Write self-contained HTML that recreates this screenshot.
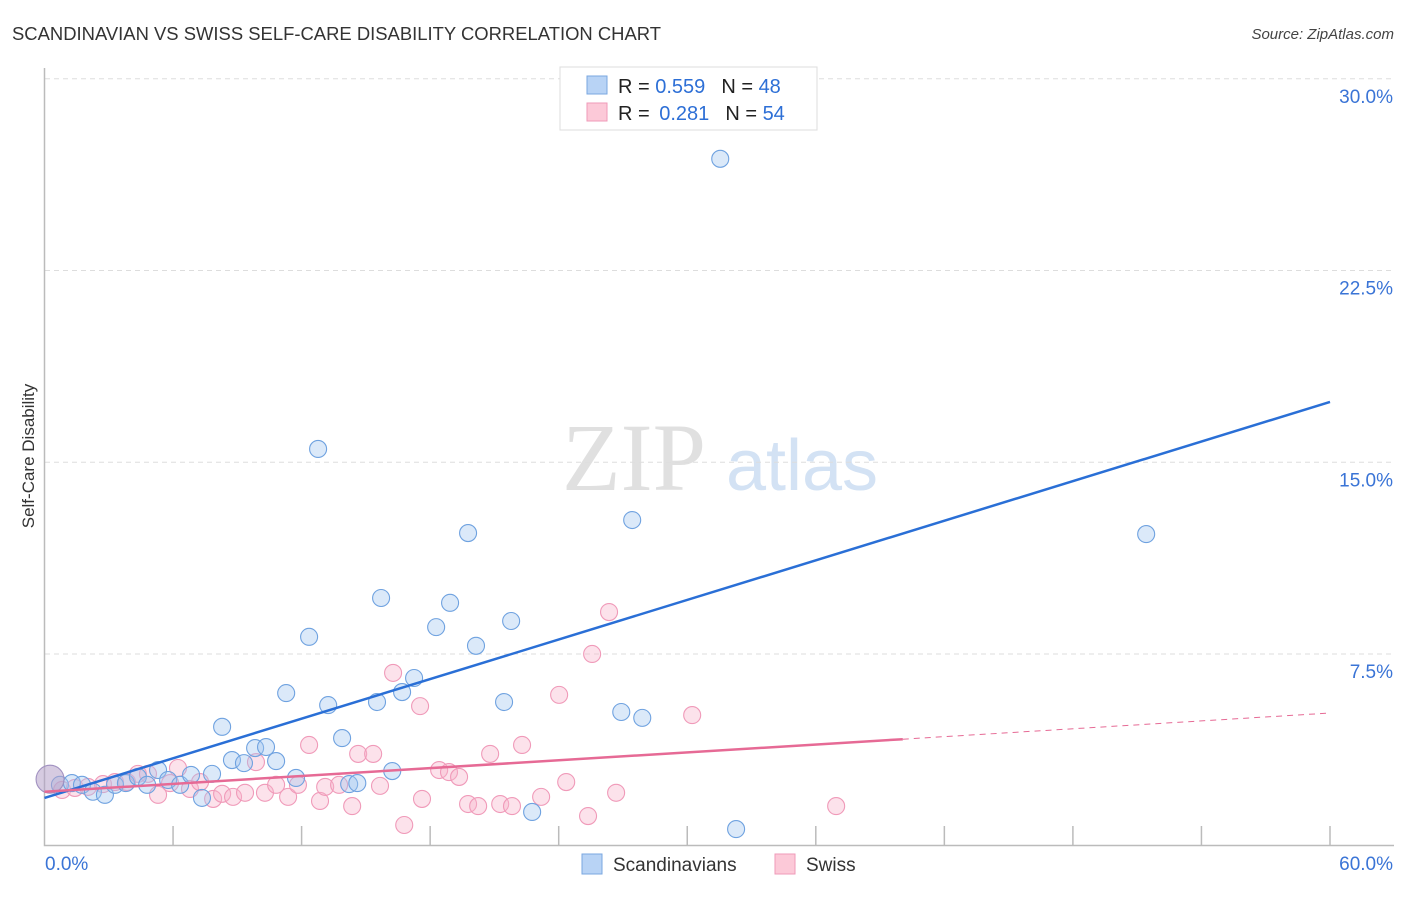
<!DOCTYPE html>
<html><head><meta charset="utf-8"><style>
body{margin:0;background:#fff;font-family:"Liberation Sans",sans-serif;}
</style></head><body>
<svg width="1406" height="892" xmlns="http://www.w3.org/2000/svg" id="chart" font-family="Liberation Sans, sans-serif">
<text x="12" y="40" font-size="18" fill="#333" textLength="649" lengthAdjust="spacingAndGlyphs">SCANDINAVIAN VS SWISS SELF-CARE DISABILITY CORRELATION CHART</text>
<text x="1394" y="39" font-size="15" fill="#444" text-anchor="end" font-style="italic">Source: ZipAtlas.com</text>
<g>
<text x="634" y="490" font-size="96" fill="#e0e0e0" text-anchor="middle" font-family="Liberation Serif, serif">ZIP</text>
<text x="802" y="490" font-size="72" fill="#d3e2f4" text-anchor="middle">atlas</text>
</g>
<g id="grid"></g><g id="axes"></g><g id="marks"></g>
<text transform="translate(34,456) rotate(-90)" font-size="17" fill="#333" text-anchor="middle">Self-Care Disability</text>
<g>
<rect x="560" y="67" width="257" height="63" fill="#fff" stroke="#ddd"/>
<rect x="587" y="76" width="20" height="18" fill="#b8d3f5" stroke="#7aa7e0"/>
<rect x="587" y="103" width="20" height="18" fill="#fcc9d8" stroke="#ef9ab8"/>
<text x="618" y="93" font-size="20" fill="#222">R = <tspan fill="#2d6fd6">0.559</tspan><tspan dx="16">N = </tspan><tspan fill="#2d6fd6">48</tspan></text>
<text x="618" y="120" font-size="20" fill="#222">R = <tspan dx="4" fill="#2d6fd6">0.281</tspan><tspan dx="16">N = </tspan><tspan fill="#2d6fd6">54</tspan></text>
</g>
<g>
<rect x="582" y="854" width="20" height="20" fill="#b8d3f5" stroke="#7aa7e0"/>
<text x="613" y="871" font-size="19" fill="#333">Scandinavians</text>
<rect x="775" y="854" width="20" height="20" fill="#fcc9d8" stroke="#ef9ab8"/>
<text x="806" y="871" font-size="19" fill="#333">Swiss</text>
</g>
</svg>
<script>
const blueX=[0.72,1.28,1.75,2.26,2.82,3.29,3.80,4.36,4.79,5.30,5.77,6.33,6.84,7.35,7.82,8.29,8.75,9.31,9.83,10.34,10.81,11.28,11.74,12.35,12.77,13.24,13.89,14.22,14.60,15.52,15.71,16.23,16.69,17.25,18.28,18.93,19.77,20.14,21.45,21.78,22.76,26.92,27.43,27.90,31.54,32.28,51.42];
const blueY=[2.38,2.45,2.38,2.11,1.99,2.38,2.45,2.69,2.38,2.96,2.57,2.38,2.77,1.87,2.81,4.65,3.35,3.23,3.82,3.86,3.31,5.97,2.65,8.17,15.52,5.50,4.21,2.41,2.45,5.62,9.69,2.92,6.01,6.56,8.55,9.50,12.23,7.82,5.62,8.79,1.32,5.23,12.74,5.00,26.87,0.65,12.19];
const pinkX=[0.82,1.42,2.03,2.73,3.29,3.85,4.36,4.83,5.30,5.86,6.23,6.79,7.26,7.87,8.29,8.80,9.36,9.87,10.29,10.81,11.37,11.83,12.35,12.86,13.10,13.75,14.36,14.64,15.34,15.66,16.27,16.79,17.53,17.62,18.42,18.88,19.35,19.77,20.24,20.80,21.27,21.82,22.29,23.18,24.02,24.35,25.37,25.56,26.35,26.68,30.23,36.95];
const pinkY=[2.18,2.26,2.30,2.41,2.49,2.49,2.81,2.81,1.99,2.45,3.04,2.22,2.49,1.83,2.03,1.91,2.07,3.27,2.07,2.38,1.91,2.38,3.94,1.75,2.30,2.38,1.55,3.59,3.59,2.34,6.76,0.81,5.46,1.83,2.96,2.88,2.69,1.63,1.55,3.59,1.63,1.55,3.94,1.91,5.90,2.49,1.16,7.50,9.14,2.07,5.11,1.55];
const bigPoint=[0.26,2.6];
const blueTrend=[1.87,17.36];
const pinkTrend=[2.11,5.19];
const pinkSolidEnd=40.06;
const yTicks=[7.5,15.0,22.5,30.0];
const xTickLabels=["0.0%","60.0%"];
const NS="http://www.w3.org/2000/svg";
const X=v=>44.5+v*(1330-44.5)/60;
const Y=v=>845.7-v*(845.7-78.8)/30;
function el(t,a,p){const e=document.createElementNS(NS,t);for(const k in a)e.setAttribute(k,a[k]);p.appendChild(e);return e;}
const grid=document.getElementById('grid'),axes=document.getElementById('axes'),marks=document.getElementById('marks');
yTicks.forEach(v=>{
 const l=el('line',{x1:45,x2:1394,y1:Y(v),y2:Y(v),stroke:'#ddd','stroke-dasharray':'5,4'},grid);
 
 
 const t=el('text',{x:1393,y:Y(v)+24,'font-size':19,fill:'#3a74d6','text-anchor':'end'},axes);
 t.textContent=v.toFixed(1)+'%';
 
 
});
const ax=el('path',{d:'M44.5,68 V845.5 H1394',fill:'none',stroke:'#bbb','stroke-width':1.5},axes);


for(let i=1;i<=10;i++){
 const tk=el('line',{x1:X(i*6),x2:X(i*6),y1:826,y2:845,stroke:'#bbb','stroke-width':1.5},axes);
 
 
}
[[45,'start',0],[1393,'end',1]].forEach(([x,a,i])=>{
 const t=el('text',{x:x,y:870,'font-size':19,fill:'#3a74d6','text-anchor':a},axes);
 t.textContent=xTickLabels[i];
 
 
});
function dot(x,y,r,fill,stroke,name){
 const c=el('circle',{cx:X(x),cy:Y(y),r:r,fill:fill,stroke:stroke,'stroke-width':1.1},marks);
 
 
}
pinkX.forEach((x,i)=>dot(x,pinkY[i],8.5,'rgba(248,180,202,0.38)','#f09ab9','swiss-point'));
blueX.forEach((x,i)=>dot(x,blueY[i],8.5,'rgba(160,196,240,0.38)','#6fa2e0','scandinavian-point'));
dot(bigPoint[0],bigPoint[1],14,'rgba(180,160,200,0.55)','#a090c0','overlap-point');
const bl=el('line',{x1:X(0),y1:Y(blueTrend[0]),x2:X(60),y2:Y(blueTrend[1]),stroke:'#2a6fd6','stroke-width':2.5},marks);


const py=v=>pinkTrend[0]+(pinkTrend[1]-pinkTrend[0])*v/60;
const pl=el('line',{x1:X(0),y1:Y(py(0)),x2:X(pinkSolidEnd),y2:Y(py(pinkSolidEnd)),stroke:'#e66a95','stroke-width':2.5},marks);


const pd=el('line',{x1:X(pinkSolidEnd),y1:Y(py(pinkSolidEnd)),x2:X(60),y2:Y(py(60)),stroke:'#e66a95','stroke-width':1,'stroke-dasharray':'6,5'},marks);


</script>
</body></html>
